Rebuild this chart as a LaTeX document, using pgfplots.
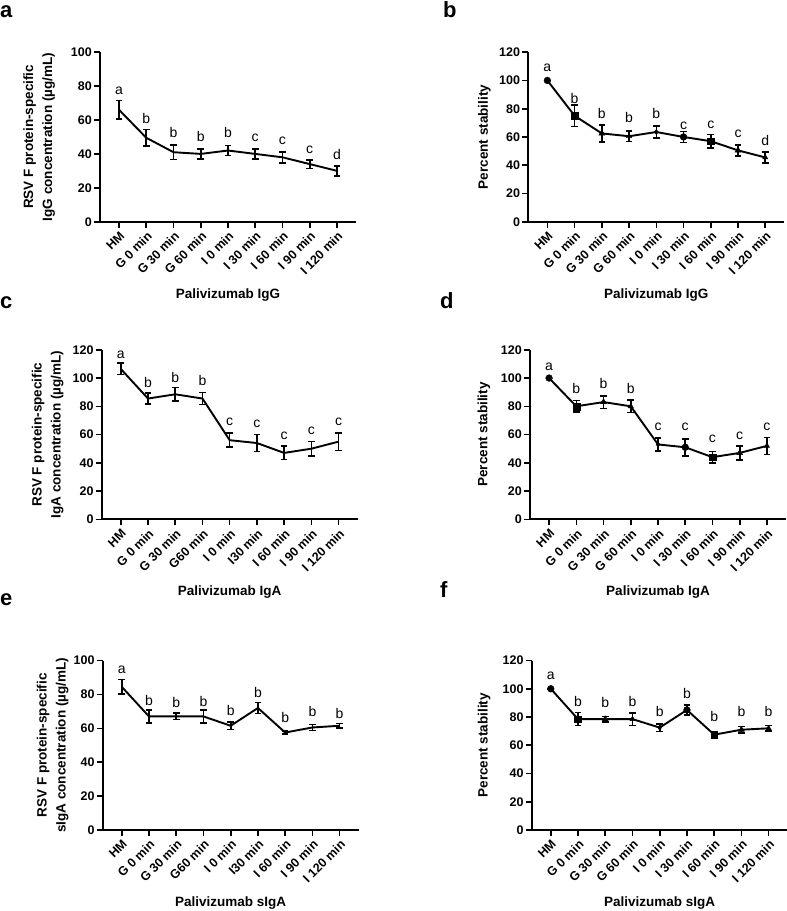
\documentclass[border=0pt]{standalone}
\usepackage{fontspec}
\setmainfont{Liberation Sans}
\usepackage{pgfplots}
\usepackage{pgfplotstable}
\pgfplotsset{compat=1.18}

% x: category index, y: mean, e: error, ly: letter baseline, lab: letter, cls: marker class
\pgfplotstableread{
x y e ly lab
0 66 5.5 75.3 a
1 49.5 5 57.8 b
2 41 4.2 49.7 b
3 40 3 47.3 b
4 42 3 49.7 b
5 40 3 47.3 c
6 38 3.3 45.8 c
7 34 2.5 40 c
8 30 3 36.9 d
}\tA
\pgfplotstableread{
x y e ly lab cls
0 100 0 106.3 a c
1 75 7.5 83.9 b s
2 62.5 6 73.2 b t
3 60.5 3.7 70.2 b v
4 63.5 4.2 73.2 b d
5 60 4 65.4 c c
6 57 4.7 66.1 c s
7 50.5 3.9 59.5 c t
8 45.5 4 53.9 d v
}\tB
\pgfplotstableread{
x y e ly lab
0 106.5 4 113.6 a
1 85.5 4 93.6 b
2 88.5 4.8 97.2 b
3 85.5 4.3 94.8 b
4 56 5 66.6 c
5 54 6 64.9 c
6 47 4.7 56.5 c
7 50 5.2 60.2 c
8 55 6.2 66.6 c
}\tC
\pgfplotstableread{
x y e ly lab cls
0 100 0 105.4 a c
1 80 4 89.4 b s
2 83 4.5 92.5 b t
3 80 4.3 89.4 b v
4 53 4.5 63.1 c d
5 51 6 62.6 c c
6 44 4 54.1 c s
7 47 5 56.5 c t
8 52 6 63.1 c v
}\tD
\pgfplotstableread{
x y e ly lab
0 84.5 4.2 92.2 a
1 67 3.8 73.5 b
2 67 1.9 72.5 b
3 67 3.7 72.9 b
4 61.5 2.2 67.6 b
5 72 3.2 78.4 b
6 57.5 0.9 63.7 b
7 60.5 1.8 66.7 b
8 61.5 1.4 65.7 b
}\tE
\pgfplotstableread{
x y e ly lab cls
0 100 0 106.3 a c
1 78.5 4.6 87.4 b s
2 78.5 2 86.9 b t
3 78.5 4.4 87.4 b v
4 72.5 2.7 80.3 b d
5 85 3.4 93.3 b c
6 67.5 1.2 76.8 b s
7 71 2.3 80.3 b t
8 72 1.9 80.3 b v
}\tF

\pgfplotsset{
  panel/.style={
    scale only axis, width=256pt, height=169.5pt,
    axis lines*=left,
    axis line style={line width=1.7pt, black},
    xmin=-0.7, xmax=8.7, ymin=0,
    xtick={0,...,8},
    tick align=outside, major tick length=6pt,
    tick style={line width=1.6pt, black},
    xticklabel style={rotate=45, anchor=north east, inner sep=2pt,
      font=\fontsize{12.5}{12.5}\selectfont\bfseries},
    yticklabel style={font=\fontsize{12.5}{12.5}\selectfont\bfseries, inner sep=2pt},
    /pgf/number format/assume math mode=true,
    xlabel style={at={(axis description cs:0.5,0)}, anchor=center, yshift=-73pt,
      font=\fontsize{13.5}{16}\selectfont\bfseries},
    ylabel style={align=center, anchor=center,
      font=\fontsize{13.5}{19}\selectfont\bfseries},
    clip=false,
  },
  dataline/.style={black, line width=1.9pt, mark=none,
    error bars/.cd, y dir=both, y explicit,
    error bar style={line width=1.6pt, black},
    error mark options={rotate=90, mark size=3.3pt, line width=1.6pt, black}},
  letters/.style={draw=none, mark=none, nodes near coords, point meta=explicit symbolic,
    nodes near coords style={anchor=base, inner sep=0pt, black,
      font=\fontsize{14}{14}\selectfont}},
  markers/.style={scatter, only marks, point meta=explicit symbolic,
    scatter/use mapped color={draw=black, fill=black},
    mark size=3.4pt,
    scatter/classes={
      c={mark=*},
      s={mark=square*},
      t={mark=triangle*},
      v={mark=triangle*, mark size=3pt, every mark/.append style={rotate=180}},
      d={mark=diamond*, mark size=2.6pt}}},
}

\def\labA{HM, G 0 min, G 30 min, G 60 min, I 0 min, I 30 min, I 60 min, I 90 min, I 120 min}
\def\labC{HM, G 0 min, G 30 min, G60 min, I 0 min, I30 min, I 60 min, I 90 min, I 120 min}

\begin{document}
\begin{tikzpicture}[x=1pt, y=1pt]
\useasboundingbox (0,0) rectangle (787,-911);

% ---- a ----
\begin{axis}[panel, at={(100pt,-221.7pt)}, anchor=south west,
  ymax=100, ytick={0,20,...,100},
  xticklabels/.expanded={\labA},
  xlabel={Palivizumab IgG},
  ylabel={RSV F protein-specific\\IgG concentration (\textmu g/mL)},
  ylabel style={at={(axis description cs:-0.238,0.5)}}]
\addplot[dataline] table[x=x, y=y, y error=e]{\tA};
\addplot[letters] table[x=x, y=ly, meta=lab]{\tA};
\end{axis}

% ---- b ----
\begin{axis}[panel, at={(528.3pt,-221.7pt)}, anchor=south west,
  ymax=120, ytick={0,20,...,120},
  xticklabels/.expanded={\labA},
  xlabel={Palivizumab IgG},
  ylabel={Percent stability},
  ylabel style={at={(axis description cs:-0.172,0.5)}}]
\addplot[dataline] table[x=x, y=y, y error=e]{\tB};
\addplot[markers] table[x=x, y=y, meta=cls]{\tB};
\addplot[letters] table[x=x, y=ly, meta=lab]{\tB};
\end{axis}

% ---- c ----
\begin{axis}[panel, at={(101.7pt,-519.3pt)}, anchor=south west,
  ymax=120, ytick={0,20,...,120},
  xticklabels/.expanded={\labC},
  xlabel={Palivizumab IgA},
  ylabel={RSV F protein-specific\\IgA concentration (\textmu g/mL)},
  ylabel style={at={(axis description cs:-0.211,0.5)}}]
\addplot[dataline] table[x=x, y=y, y error=e]{\tC};
\addplot[letters] table[x=x, y=ly, meta=lab]{\tC};
\end{axis}

% ---- d ----
\begin{axis}[panel, at={(530pt,-519.3pt)}, anchor=south west,
  ymax=120, ytick={0,20,...,120},
  xticklabels/.expanded={\labA},
  xlabel={Palivizumab IgA},
  ylabel={Percent stability},
  ylabel style={at={(axis description cs:-0.18,0.5)}}]
\addplot[dataline] table[x=x, y=y, y error=e]{\tD};
\addplot[markers] table[x=x, y=y, meta=cls]{\tD};
\addplot[letters] table[x=x, y=ly, meta=lab]{\tD};
\end{axis}

% ---- e ----
\begin{axis}[panel, at={(102.7pt,-830pt)}, anchor=south west,
  ymax=100, ytick={0,20,...,100},
  xticklabels/.expanded={\labC},
  xlabel={Palivizumab sIgA},
  ylabel={RSV F protein-specific\\sIgA concentration (\textmu g/mL)},
  ylabel style={at={(axis description cs:-0.195,0.5)}}]
\addplot[dataline] table[x=x, y=y, y error=e]{\tE};
\addplot[letters] table[x=x, y=ly, meta=lab]{\tE};
\end{axis}

% ---- f ----
\begin{axis}[panel, at={(531.7pt,-830pt)}, anchor=south west,
  ymax=120, ytick={0,20,...,120},
  xticklabels/.expanded={\labA},
  xlabel={Palivizumab sIgA},
  ylabel={Percent stability},
  ylabel style={at={(axis description cs:-0.186,0.5)}}]
\addplot[dataline] table[x=x, y=y, y error=e]{\tF};
\addplot[markers] table[x=x, y=y, meta=cls]{\tF};
\addplot[letters] table[x=x, y=ly, meta=lab]{\tF};
\end{axis}

% panel letters
\begin{scope}[every node/.style={anchor=base west, inner sep=0pt,
    font=\fontsize{22}{22}\selectfont\bfseries}]
\node at (0,-17) {a};
\node at (443,-17) {b};
\node at (0,-308) {c};
\node at (440,-308) {d};
\node at (0,-605) {e};
\node at (440,-597) {f};
\end{scope}
\end{tikzpicture}
\end{document}
